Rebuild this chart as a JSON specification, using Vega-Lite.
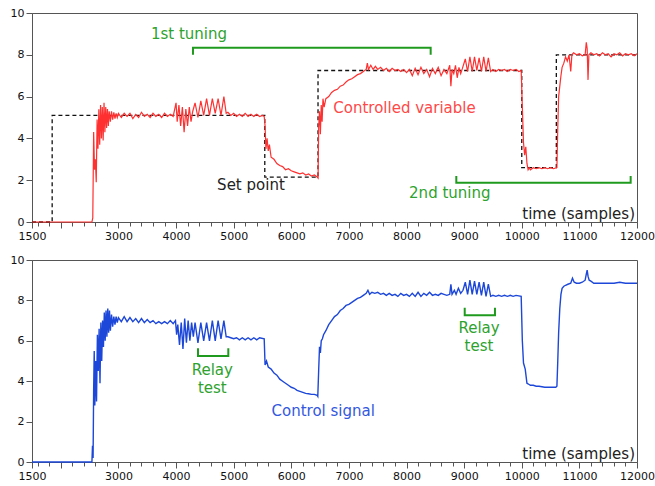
{
  "$schema": "https://vega.github.io/schema/vega-lite/v6.json",
  "padding": {"left": 9, "top": 6, "right": 0, "bottom": 0},
  "spacing": 11,
  "background": "white",
  "config": {
    "view": {"stroke": "#555", "strokeWidth": 1},
    "axis": {"domainColor": "#555", "tickColor": "#555", "labelColor": "#111", "labelFont": "DejaVu Sans", "labelFontSize": 11, "grid": false, "title": null},
    "text": {"font": "DejaVu Sans", "fontSize": 15}
  },
  "datasets": {
    "sp": [
      {"s": 1500, "v": 0}, {"s": 1850, "v": 5.1}, {"s": 5540, "v": 2.15}, {"s": 6464, "v": 7.25}, {"s": 10000, "v": 2.6}, {"s": 10600, "v": 8.0}, {"s": 12000, "v": 8.0}
    ],
    "cv": [
      {"s": 1500, "v": 0}, {"s": 2540, "v": 0}, {"s": 2555, "v": 0.2}, {"s": 2570, "v": 4.3}, {"s": 2585, "v": 2.5}, {"s": 2600, "v": 3.0}, {"s": 2615, "v": 1.9}, {"s": 2630, "v": 4.9}, {"s": 2645, "v": 3.5}, {"s": 2660, "v": 5.4}, {"s": 2675, "v": 3.7}, {"s": 2690, "v": 5.6}, {"s": 2705, "v": 4.0}, {"s": 2720, "v": 5.5}, {"s": 2735, "v": 3.9}, {"s": 2750, "v": 5.7}, {"s": 2765, "v": 4.3}, {"s": 2780, "v": 5.5}, {"s": 2795, "v": 4.5}, {"s": 2810, "v": 5.4}, {"s": 2825, "v": 4.6}, {"s": 2840, "v": 5.3}, {"s": 2860, "v": 4.8}, {"s": 2880, "v": 5.3}, {"s": 2900, "v": 4.9}, {"s": 2920, "v": 5.25}, {"s": 2940, "v": 4.95}, {"s": 2960, "v": 5.2}, {"s": 2980, "v": 5.0}, {"s": 3000, "v": 5.2},
      {"s": 3050, "v": 5.0}, {"s": 3100, "v": 5.2}, {"s": 3150, "v": 5.05}, {"s": 3200, "v": 5.2}, {"s": 3250, "v": 4.95}, {"s": 3300, "v": 5.15}, {"s": 3350, "v": 5.0}, {"s": 3400, "v": 5.25}, {"s": 3450, "v": 5.05}, {"s": 3500, "v": 5.15}, {"s": 3550, "v": 5.0}, {"s": 3600, "v": 5.2}, {"s": 3650, "v": 5.05}, {"s": 3700, "v": 5.15}, {"s": 3750, "v": 5.0}, {"s": 3800, "v": 5.2}, {"s": 3850, "v": 5.05}, {"s": 3900, "v": 5.15}, {"s": 3950, "v": 5.05},
      {"s": 4000, "v": 5.7}, {"s": 4020, "v": 4.8}, {"s": 4050, "v": 5.6}, {"s": 4080, "v": 4.6}, {"s": 4110, "v": 5.5}, {"s": 4140, "v": 4.3}, {"s": 4170, "v": 5.4}, {"s": 4200, "v": 4.6}, {"s": 4230, "v": 5.5}, {"s": 4260, "v": 4.8}, {"s": 4290, "v": 5.3},
      {"s": 4330, "v": 5.7}, {"s": 4380, "v": 5.0}, {"s": 4430, "v": 5.8}, {"s": 4480, "v": 5.1}, {"s": 4530, "v": 5.9}, {"s": 4580, "v": 5.1}, {"s": 4630, "v": 5.9}, {"s": 4680, "v": 5.2}, {"s": 4730, "v": 5.9}, {"s": 4780, "v": 5.1}, {"s": 4830, "v": 6.0}, {"s": 4870, "v": 5.2}, {"s": 4900, "v": 5.25},
      {"s": 4950, "v": 5.1}, {"s": 5000, "v": 5.2}, {"s": 5050, "v": 5.05}, {"s": 5100, "v": 5.15}, {"s": 5150, "v": 5.05}, {"s": 5200, "v": 5.2}, {"s": 5250, "v": 5.05}, {"s": 5300, "v": 5.15}, {"s": 5350, "v": 5.05}, {"s": 5400, "v": 5.15}, {"s": 5450, "v": 5.05}, {"s": 5500, "v": 5.1}, {"s": 5530, "v": 5.05},
      {"s": 5545, "v": 4.6}, {"s": 5560, "v": 3.5}, {"s": 5580, "v": 4.0}, {"s": 5600, "v": 3.4}, {"s": 5620, "v": 3.7}, {"s": 5650, "v": 3.1}, {"s": 5700, "v": 3.0}, {"s": 5750, "v": 2.8}, {"s": 5800, "v": 2.7}, {"s": 5850, "v": 2.65}, {"s": 5900, "v": 2.5}, {"s": 5950, "v": 2.55}, {"s": 6000, "v": 2.45}, {"s": 6050, "v": 2.4}, {"s": 6100, "v": 2.35}, {"s": 6150, "v": 2.3}, {"s": 6200, "v": 2.35}, {"s": 6250, "v": 2.25}, {"s": 6300, "v": 2.3}, {"s": 6350, "v": 2.2}, {"s": 6400, "v": 2.25}, {"s": 6450, "v": 2.15}, {"s": 6465, "v": 2.1},
      {"s": 6475, "v": 4.5}, {"s": 6490, "v": 5.3}, {"s": 6505, "v": 4.2}, {"s": 6520, "v": 5.6}, {"s": 6535, "v": 4.8}, {"s": 6550, "v": 5.9}, {"s": 6570, "v": 5.5}, {"s": 6600, "v": 5.9}, {"s": 6650, "v": 6.0}, {"s": 6700, "v": 6.2}, {"s": 6750, "v": 6.3}, {"s": 6800, "v": 6.35}, {"s": 6850, "v": 6.5}, {"s": 6900, "v": 6.55}, {"s": 6950, "v": 6.7}, {"s": 7000, "v": 6.8}, {"s": 7050, "v": 6.85}, {"s": 7100, "v": 6.95}, {"s": 7150, "v": 7.05}, {"s": 7200, "v": 7.1}, {"s": 7250, "v": 7.2}, {"s": 7300, "v": 7.3}, {"s": 7320, "v": 7.6}, {"s": 7340, "v": 7.3}, {"s": 7380, "v": 7.5}, {"s": 7420, "v": 7.3}, {"s": 7460, "v": 7.45}, {"s": 7500, "v": 7.3}, {"s": 7550, "v": 7.4}, {"s": 7600, "v": 7.25}, {"s": 7650, "v": 7.35}, {"s": 7700, "v": 7.2}, {"s": 7750, "v": 7.35}, {"s": 7800, "v": 7.25}, {"s": 7850, "v": 7.3}, {"s": 7900, "v": 7.2}, {"s": 7950, "v": 7.3}, {"s": 8000, "v": 7.15}, {"s": 8050, "v": 7.3}, {"s": 8100, "v": 7.0}, {"s": 8150, "v": 7.35}, {"s": 8200, "v": 7.05}, {"s": 8250, "v": 7.4}, {"s": 8300, "v": 7.1}, {"s": 8350, "v": 7.3}, {"s": 8400, "v": 6.95}, {"s": 8450, "v": 7.35}, {"s": 8500, "v": 7.1}, {"s": 8550, "v": 7.4}, {"s": 8600, "v": 7.0}, {"s": 8650, "v": 7.3}, {"s": 8700, "v": 7.1}, {"s": 8750, "v": 7.5}, {"s": 8770, "v": 6.5}, {"s": 8790, "v": 7.3}, {"s": 8820, "v": 7.1}, {"s": 8850, "v": 7.5}, {"s": 8880, "v": 6.9}, {"s": 8910, "v": 7.4}, {"s": 8940, "v": 7.1}, {"s": 8970, "v": 7.35},
      {"s": 9020, "v": 7.8}, {"s": 9060, "v": 7.2}, {"s": 9100, "v": 7.9}, {"s": 9140, "v": 7.2}, {"s": 9180, "v": 7.9}, {"s": 9220, "v": 7.25}, {"s": 9260, "v": 7.85}, {"s": 9300, "v": 7.2}, {"s": 9340, "v": 7.9}, {"s": 9380, "v": 7.2}, {"s": 9420, "v": 7.85}, {"s": 9460, "v": 7.2}, {"s": 9500, "v": 7.3}, {"s": 9550, "v": 7.2}, {"s": 9600, "v": 7.3}, {"s": 9650, "v": 7.25}, {"s": 9700, "v": 7.3}, {"s": 9750, "v": 7.2}, {"s": 9800, "v": 7.3}, {"s": 9850, "v": 7.25}, {"s": 9900, "v": 7.3}, {"s": 9950, "v": 7.2}, {"s": 9990, "v": 7.25},
      {"s": 10010, "v": 5.5}, {"s": 10030, "v": 3.8}, {"s": 10050, "v": 3.2}, {"s": 10070, "v": 3.6}, {"s": 10090, "v": 2.8}, {"s": 10110, "v": 2.5}, {"s": 10130, "v": 2.6}, {"s": 10150, "v": 2.5}, {"s": 10200, "v": 2.6}, {"s": 10250, "v": 2.55}, {"s": 10300, "v": 2.6}, {"s": 10350, "v": 2.55}, {"s": 10400, "v": 2.6}, {"s": 10450, "v": 2.55}, {"s": 10500, "v": 2.6}, {"s": 10550, "v": 2.55}, {"s": 10610, "v": 2.6},
      {"s": 10625, "v": 4.5}, {"s": 10640, "v": 6.0}, {"s": 10660, "v": 6.5}, {"s": 10680, "v": 7.0}, {"s": 10700, "v": 7.4}, {"s": 10730, "v": 7.6}, {"s": 10760, "v": 7.9}, {"s": 10790, "v": 7.7}, {"s": 10820, "v": 8.0}, {"s": 10850, "v": 7.2}, {"s": 10870, "v": 8.0}, {"s": 10900, "v": 8.1}, {"s": 10950, "v": 8.0}, {"s": 11000, "v": 8.05}, {"s": 11050, "v": 7.95}, {"s": 11100, "v": 8.0}, {"s": 11120, "v": 8.6}, {"s": 11135, "v": 8.3}, {"s": 11150, "v": 6.8}, {"s": 11165, "v": 8.0}, {"s": 11200, "v": 8.1}, {"s": 11250, "v": 8.0}, {"s": 11300, "v": 8.05}, {"s": 11350, "v": 7.95}, {"s": 11400, "v": 8.1}, {"s": 11450, "v": 8.0}, {"s": 11500, "v": 8.05}, {"s": 11550, "v": 7.9}, {"s": 11600, "v": 8.05}, {"s": 11650, "v": 8.0}, {"s": 11700, "v": 8.1}, {"s": 11750, "v": 7.95}, {"s": 11800, "v": 8.05}, {"s": 11850, "v": 8.0}, {"s": 11900, "v": 8.05}, {"s": 11950, "v": 7.95}, {"s": 12000, "v": 8.05}
    ],
    "cs": [
      {"s": 1500, "v": 0}, {"s": 2540, "v": 0}, {"s": 2550, "v": 0.8}, {"s": 2560, "v": 0.2}, {"s": 2570, "v": 3.6}, {"s": 2580, "v": 5.5}, {"s": 2590, "v": 2.8}, {"s": 2605, "v": 5.0}, {"s": 2620, "v": 3.0}, {"s": 2635, "v": 6.3}, {"s": 2650, "v": 4.5}, {"s": 2665, "v": 6.6}, {"s": 2680, "v": 3.9}, {"s": 2695, "v": 6.9}, {"s": 2710, "v": 5.0}, {"s": 2725, "v": 7.0}, {"s": 2740, "v": 5.7}, {"s": 2755, "v": 7.4}, {"s": 2770, "v": 6.0}, {"s": 2785, "v": 7.5}, {"s": 2800, "v": 6.2}, {"s": 2815, "v": 7.6}, {"s": 2830, "v": 6.4}, {"s": 2845, "v": 7.5}, {"s": 2860, "v": 6.5}, {"s": 2880, "v": 7.3}, {"s": 2900, "v": 6.7}, {"s": 2920, "v": 7.2}, {"s": 2940, "v": 6.8}, {"s": 2960, "v": 7.2}, {"s": 2980, "v": 6.9}, {"s": 3000, "v": 7.15}, {"s": 3050, "v": 6.95}, {"s": 3100, "v": 7.2}, {"s": 3150, "v": 6.95}, {"s": 3200, "v": 7.15}, {"s": 3250, "v": 6.95}, {"s": 3300, "v": 7.1}, {"s": 3350, "v": 6.9}, {"s": 3400, "v": 7.1}, {"s": 3450, "v": 6.9}, {"s": 3500, "v": 7.05}, {"s": 3550, "v": 6.9}, {"s": 3600, "v": 7.0}, {"s": 3650, "v": 6.85}, {"s": 3700, "v": 6.95}, {"s": 3750, "v": 6.85}, {"s": 3800, "v": 6.95}, {"s": 3850, "v": 6.85}, {"s": 3900, "v": 7.0}, {"s": 3950, "v": 6.85}, {"s": 3990, "v": 7.0},
      {"s": 4010, "v": 6.3}, {"s": 4030, "v": 6.8}, {"s": 4060, "v": 5.8}, {"s": 4090, "v": 6.9}, {"s": 4120, "v": 5.6}, {"s": 4150, "v": 7.1}, {"s": 4180, "v": 5.9}, {"s": 4210, "v": 7.0}, {"s": 4240, "v": 6.0}, {"s": 4270, "v": 6.9}, {"s": 4300, "v": 6.2},
      {"s": 4330, "v": 6.9}, {"s": 4380, "v": 5.9}, {"s": 4430, "v": 6.9}, {"s": 4480, "v": 6.0}, {"s": 4530, "v": 6.9}, {"s": 4580, "v": 6.0}, {"s": 4630, "v": 7.0}, {"s": 4680, "v": 6.0}, {"s": 4730, "v": 7.0}, {"s": 4780, "v": 6.1}, {"s": 4830, "v": 7.0}, {"s": 4870, "v": 6.2}, {"s": 4900, "v": 6.2}, {"s": 4950, "v": 6.15}, {"s": 5000, "v": 6.1}, {"s": 5050, "v": 6.15}, {"s": 5100, "v": 6.05}, {"s": 5150, "v": 6.15}, {"s": 5200, "v": 6.05}, {"s": 5250, "v": 6.15}, {"s": 5300, "v": 6.05}, {"s": 5350, "v": 6.15}, {"s": 5400, "v": 6.05}, {"s": 5450, "v": 6.15}, {"s": 5530, "v": 6.1},
      {"s": 5545, "v": 4.8}, {"s": 5570, "v": 5.0}, {"s": 5600, "v": 4.7}, {"s": 5650, "v": 4.6}, {"s": 5700, "v": 4.4}, {"s": 5750, "v": 4.3}, {"s": 5800, "v": 4.1}, {"s": 5850, "v": 4.0}, {"s": 5900, "v": 3.9}, {"s": 5950, "v": 3.8}, {"s": 6000, "v": 3.7}, {"s": 6050, "v": 3.65}, {"s": 6100, "v": 3.55}, {"s": 6150, "v": 3.5}, {"s": 6200, "v": 3.45}, {"s": 6250, "v": 3.4}, {"s": 6300, "v": 3.38}, {"s": 6350, "v": 3.35}, {"s": 6400, "v": 3.35}, {"s": 6450, "v": 3.3}, {"s": 6460, "v": 3.25},
      {"s": 6475, "v": 4.5}, {"s": 6490, "v": 5.7}, {"s": 6505, "v": 5.4}, {"s": 6520, "v": 6.0}, {"s": 6540, "v": 6.1}, {"s": 6560, "v": 6.3}, {"s": 6600, "v": 6.5}, {"s": 6650, "v": 6.8}, {"s": 6700, "v": 7.0}, {"s": 6750, "v": 7.2}, {"s": 6800, "v": 7.3}, {"s": 6850, "v": 7.5}, {"s": 6900, "v": 7.6}, {"s": 6950, "v": 7.75}, {"s": 7000, "v": 7.8}, {"s": 7050, "v": 7.9}, {"s": 7100, "v": 8.0}, {"s": 7150, "v": 8.1}, {"s": 7200, "v": 8.15}, {"s": 7250, "v": 8.25}, {"s": 7300, "v": 8.35}, {"s": 7330, "v": 8.5}, {"s": 7360, "v": 8.3}, {"s": 7400, "v": 8.4}, {"s": 7450, "v": 8.35}, {"s": 7500, "v": 8.4}, {"s": 7550, "v": 8.3}, {"s": 7600, "v": 8.35}, {"s": 7650, "v": 8.25}, {"s": 7700, "v": 8.35}, {"s": 7750, "v": 8.25}, {"s": 7800, "v": 8.3}, {"s": 7850, "v": 8.2}, {"s": 7900, "v": 8.35}, {"s": 7950, "v": 8.25}, {"s": 8000, "v": 8.3}, {"s": 8050, "v": 8.2}, {"s": 8100, "v": 8.35}, {"s": 8150, "v": 8.2}, {"s": 8200, "v": 8.4}, {"s": 8250, "v": 8.2}, {"s": 8300, "v": 8.35}, {"s": 8350, "v": 8.25}, {"s": 8400, "v": 8.4}, {"s": 8450, "v": 8.25}, {"s": 8500, "v": 8.3}, {"s": 8550, "v": 8.25}, {"s": 8600, "v": 8.35}, {"s": 8650, "v": 8.3}, {"s": 8700, "v": 8.25}, {"s": 8750, "v": 8.3}, {"s": 8770, "v": 8.8}, {"s": 8790, "v": 8.3}, {"s": 8830, "v": 8.5}, {"s": 8860, "v": 8.3}, {"s": 8900, "v": 8.6}, {"s": 8940, "v": 8.35}, {"s": 8980, "v": 8.5},
      {"s": 9020, "v": 8.9}, {"s": 9060, "v": 8.3}, {"s": 9100, "v": 9.0}, {"s": 9140, "v": 8.3}, {"s": 9180, "v": 8.95}, {"s": 9220, "v": 8.3}, {"s": 9260, "v": 8.9}, {"s": 9300, "v": 8.25}, {"s": 9340, "v": 8.9}, {"s": 9380, "v": 8.2}, {"s": 9420, "v": 8.8}, {"s": 9460, "v": 8.2}, {"s": 9500, "v": 8.25}, {"s": 9550, "v": 8.2}, {"s": 9600, "v": 8.25}, {"s": 9650, "v": 8.2}, {"s": 9700, "v": 8.25}, {"s": 9750, "v": 8.2}, {"s": 9800, "v": 8.25}, {"s": 9850, "v": 8.2}, {"s": 9900, "v": 8.25}, {"s": 9990, "v": 8.2},
      {"s": 10010, "v": 6.0}, {"s": 10030, "v": 4.9}, {"s": 10060, "v": 4.6}, {"s": 10090, "v": 3.9}, {"s": 10120, "v": 3.85}, {"s": 10150, "v": 3.8}, {"s": 10200, "v": 3.8}, {"s": 10250, "v": 3.75}, {"s": 10300, "v": 3.75}, {"s": 10400, "v": 3.7}, {"s": 10500, "v": 3.7}, {"s": 10590, "v": 3.7}, {"s": 10610, "v": 3.75},
      {"s": 10625, "v": 5.0}, {"s": 10640, "v": 6.4}, {"s": 10660, "v": 7.6}, {"s": 10680, "v": 8.3}, {"s": 10700, "v": 8.6}, {"s": 10730, "v": 8.7}, {"s": 10760, "v": 8.75}, {"s": 10800, "v": 8.8}, {"s": 10850, "v": 8.85}, {"s": 10880, "v": 9.1}, {"s": 10910, "v": 8.9}, {"s": 10950, "v": 8.85}, {"s": 11000, "v": 8.85}, {"s": 11050, "v": 8.9}, {"s": 11100, "v": 9.0}, {"s": 11120, "v": 9.3}, {"s": 11135, "v": 9.5}, {"s": 11150, "v": 9.2}, {"s": 11170, "v": 9.0}, {"s": 11200, "v": 8.95}, {"s": 11250, "v": 8.85}, {"s": 11300, "v": 8.85}, {"s": 11400, "v": 8.85}, {"s": 11500, "v": 8.85}, {"s": 11600, "v": 8.85}, {"s": 11700, "v": 8.9}, {"s": 11800, "v": 8.85}, {"s": 11900, "v": 8.85}, {"s": 12000, "v": 8.85}
    ],
    "brackets": [
      {"panel": "top", "id": "b1", "o": 1, "s": 4294, "v": 8.0}, {"panel": "top", "id": "b1", "o": 2, "s": 4294, "v": 8.34}, {"panel": "top", "id": "b1", "o": 3, "s": 8419, "v": 8.34}, {"panel": "top", "id": "b1", "o": 4, "s": 8419, "v": 8.0},
      {"panel": "top", "id": "b2", "o": 1, "s": 8864, "v": 2.2}, {"panel": "top", "id": "b2", "o": 2, "s": 8864, "v": 1.88}, {"panel": "top", "id": "b2", "o": 3, "s": 11890, "v": 1.88}, {"panel": "top", "id": "b2", "o": 4, "s": 11890, "v": 2.2},
      {"panel": "bottom", "id": "b3", "o": 1, "s": 4381, "v": 5.63}, {"panel": "bottom", "id": "b3", "o": 2, "s": 4381, "v": 5.25}, {"panel": "bottom", "id": "b3", "o": 3, "s": 4907, "v": 5.25}, {"panel": "bottom", "id": "b3", "o": 4, "s": 4907, "v": 5.63},
      {"panel": "bottom", "id": "b4", "o": 1, "s": 9010, "v": 7.64}, {"panel": "bottom", "id": "b4", "o": 2, "s": 9010, "v": 7.26}, {"panel": "bottom", "id": "b4", "o": 3, "s": 9535, "v": 7.26}, {"panel": "bottom", "id": "b4", "o": 4, "s": 9535, "v": 7.64}
    ],
    "labels": [
      {"panel": "top", "kind": "green", "s": 4225, "v": 9.0, "t": "1st tuning"},
      {"panel": "top", "kind": "green", "s": 8751, "v": 1.4, "t": "2nd tuning"},
      {"panel": "top", "kind": "black", "s": 5300, "v": 1.77, "t": "Set point"},
      {"panel": "top", "kind": "red", "s": 7965, "v": 5.47, "t": "Controlled variable"},
      {"panel": "bottom", "kind": "green", "s": 4629, "v": 4.55, "t": "Relay"},
      {"panel": "bottom", "kind": "green", "s": 4629, "v": 3.68, "t": "test"},
      {"panel": "bottom", "kind": "green", "s": 9258, "v": 6.65, "t": "Relay"},
      {"panel": "bottom", "kind": "green", "s": 9258, "v": 5.74, "t": "test"},
      {"panel": "bottom", "kind": "blue", "s": 6554, "v": 2.52, "t": "Control signal"}
    ],
    "axislabel": [
      {"s": 12000, "v": 0.4, "t": "time (samples)"}
    ]
  },
  "vconcat": [
    {
      "width": 605,
      "height": 209,
      "encoding": {
        "x": {"field": "s", "type": "quantitative", "scale": {"domain": [1500, 12000], "nice": false, "zero": false},
          "axis": {"values": [1500, 1600, 1800, 2000, 2200, 2400, 2600, 2800, 3000, 3200, 3400, 3600, 3800, 4000, 4200, 4400, 4600, 4800, 5000, 5200, 5400, 5600, 5800, 6000, 6200, 6400, 6600, 6800, 7000, 7200, 7400, 7600, 7800, 8000, 8200, 8400, 8600, 8800, 9000, 9200, 9400, 9600, 9800, 10000, 10200, 10400, 10600, 10800, 11000, 11200, 11400, 11600, 11800, 12000],
            "tickSize": {"condition": {"test": "datum.value % 1000 === 0 || datum.value === 1500", "value": 6}, "value": 4},
            "labelExpr": "(datum.value === 1500 || (datum.value % 1000 === 0 && datum.value !== 2000)) ? format(datum.value, 'd') : ''",
            "labelOverlap": false, "labelFlush": false, "labelPadding": 2}},
        "y": {"field": "v", "type": "quantitative", "scale": {"domain": [0, 10], "nice": false},
          "axis": {"values": [0, 2, 4, 6, 8, 10], "tickSize": 6, "labelPadding": 2}}
      },
      "layer": [
        {"data": {"name": "sp"}, "mark": {"type": "line", "interpolate": "step-after", "color": "#111", "strokeWidth": 1.3, "strokeDash": [4, 3]}},
        {"data": {"name": "cv"}, "mark": {"type": "line", "color": "#ff3030", "strokeWidth": 1.2}},
        {"data": {"name": "brackets"}, "transform": [{"filter": "datum.panel === 'top'"}], "mark": {"type": "line", "color": "#1f9a1f", "strokeWidth": 2}, "encoding": {"detail": {"field": "id"}, "order": {"field": "o"}}},
        {"data": {"name": "labels"}, "transform": [{"filter": "datum.panel === 'top' && datum.kind === 'green'"}], "mark": {"type": "text", "color": "#2ea22e", "baseline": "middle", "align": "center"}, "encoding": {"text": {"field": "t"}}},
        {"data": {"name": "labels"}, "transform": [{"filter": "datum.panel === 'top' && datum.kind === 'black'"}], "mark": {"type": "text", "color": "#222", "baseline": "middle", "align": "center"}, "encoding": {"text": {"field": "t"}}},
        {"data": {"name": "labels"}, "transform": [{"filter": "datum.panel === 'top' && datum.kind === 'red'"}], "mark": {"type": "text", "color": "#ff4848", "baseline": "middle", "align": "center"}, "encoding": {"text": {"field": "t"}}},
        {"data": {"name": "axislabel"}, "mark": {"type": "text", "color": "#222", "baseline": "middle", "align": "right", "dx": -2}, "encoding": {"text": {"field": "t"}}}
      ]
    },
    {
      "width": 605,
      "height": 202,
      "encoding": {
        "x": {"field": "s", "type": "quantitative", "scale": {"domain": [1500, 12000], "nice": false, "zero": false},
          "axis": {"values": [1500, 1600, 1800, 2000, 2200, 2400, 2600, 2800, 3000, 3200, 3400, 3600, 3800, 4000, 4200, 4400, 4600, 4800, 5000, 5200, 5400, 5600, 5800, 6000, 6200, 6400, 6600, 6800, 7000, 7200, 7400, 7600, 7800, 8000, 8200, 8400, 8600, 8800, 9000, 9200, 9400, 9600, 9800, 10000, 10200, 10400, 10600, 10800, 11000, 11200, 11400, 11600, 11800, 12000],
            "tickSize": {"condition": {"test": "datum.value % 1000 === 0 || datum.value === 1500", "value": 6}, "value": 4},
            "labelExpr": "(datum.value === 1500 || (datum.value % 1000 === 0 && datum.value !== 2000)) ? format(datum.value, 'd') : ''",
            "labelOverlap": false, "labelFlush": false, "labelPadding": 2}},
        "y": {"field": "v", "type": "quantitative", "scale": {"domain": [0, 10], "nice": false},
          "axis": {"values": [0, 2, 4, 6, 8, 10], "tickSize": 6, "labelPadding": 2}}
      },
      "layer": [
        {"data": {"name": "cs"}, "mark": {"type": "line", "color": "#1c47d8", "strokeWidth": 1.4}},
        {"data": {"name": "brackets"}, "transform": [{"filter": "datum.panel === 'bottom'"}], "mark": {"type": "line", "color": "#1f9a1f", "strokeWidth": 2}, "encoding": {"detail": {"field": "id"}, "order": {"field": "o"}}},
        {"data": {"name": "labels"}, "transform": [{"filter": "datum.panel === 'bottom' && datum.kind === 'green'"}], "mark": {"type": "text", "color": "#2ea22e", "baseline": "middle", "align": "center"}, "encoding": {"text": {"field": "t"}}},
        {"data": {"name": "labels"}, "transform": [{"filter": "datum.panel === 'bottom' && datum.kind === 'blue'"}], "mark": {"type": "text", "color": "#3358e0", "baseline": "middle", "align": "center"}, "encoding": {"text": {"field": "t"}}},
        {"data": {"name": "axislabel"}, "mark": {"type": "text", "color": "#222", "baseline": "middle", "align": "right", "dx": -2}, "encoding": {"text": {"field": "t"}}}
      ]
    }
  ]
}
